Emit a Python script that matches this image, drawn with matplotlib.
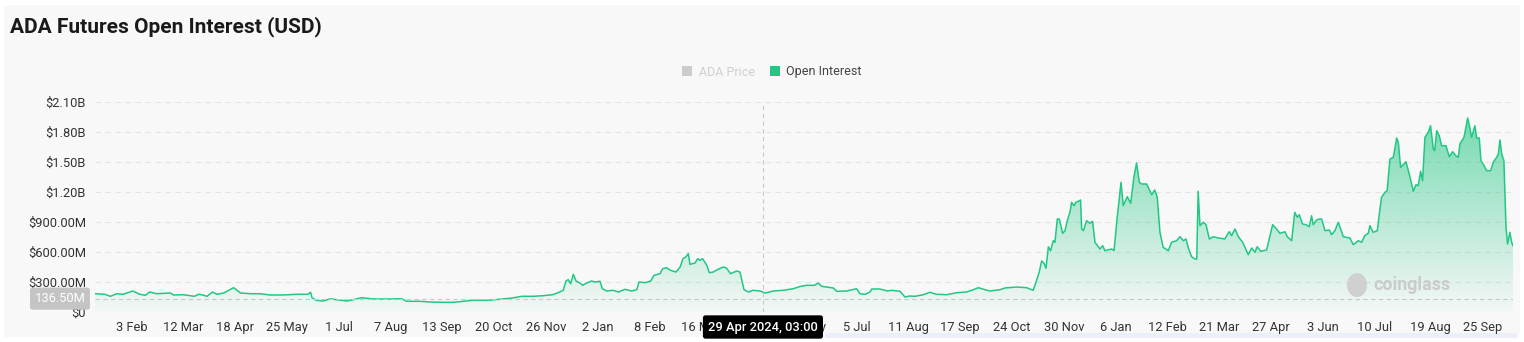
import numpy as np
import pandas as pd
import matplotlib
matplotlib.use('Agg')
import matplotlib.pyplot as plt
import matplotlib.dates as mdates
from matplotlib.colors import ListedColormap
from matplotlib.patches import Patch, Rectangle, Ellipse
from matplotlib.transforms import blended_transform_factory

plt.rcParams['font.family'] = ['Roboto', 'DejaVu Sans']

# data: days after start_date, open interest in millions USD
start_date = '2023-01-08'
day = [0, 7, 11, 15.5, 20, 27, 32, 36, 39, 44, 54, 56, 63, 71, 74, 77, 80, 84, 87, 92,
       99, 104, 111, 118, 125, 134, 144, 152, 154, 155, 158, 163,
       168, 172.6, 180, 184.5, 190.5, 199, 211, 219, 222.6, 232, 239, 249, 256, 263, 270,
       280, 289, 298, 305, 313, 320, 327,
       332, 334.5, 336.4, 338, 339.8, 341.7, 343.6, 346.4, 348.3, 351.2, 354.8, 357, 360.7,
       362.4, 365.5, 370, 374, 378.6, 383.3, 387, 388.6, 392.9, 397, 399.3, 403.6, 405.5,
       408.3, 411, 415, 418, 420, 422, 423.8, 425, 428.6, 430.5, 432, 434, 437, 438.8,
       441.7, 445, 448.8, 451, 454, 458.3, 460.7, 463.6, 466.7, 470, 475, 479, 484.5,
       491.7, 498.8, 503.6,
       508.4, 514, 516.6, 519, 527.4, 529.8, 537, 544, 546.4, 550, 553.6, 554.8, 560.7,
       566, 569, 575, 578.6, 582, 585.7, 591.7, 596.4, 601, 608.4, 615.5, 622.6, 627.4,
       631, 635.7, 639.3, 646.4, 650, 658.4, 665.5, 670.2,
       672.6, 674.5, 676.2, 677.9, 679.3, 681, 682.6, 684.5, 685.7, 687.4, 688.8, 691.2,
       692.9, 694.5, 696.4, 697.6, 699.3, 700.7, 702.4, 704, 704.8, 706, 708.3, 710.7,
       712.6, 714.3, 717.9, 719.8, 721.4, 726.2, 727.9, 730.2, 732.9, 734.5, 737.4, 739.8,
       742.1, 744, 746, 747.6, 751.2, 754.8, 757, 758.8, 760.7, 763, 766.7, 769, 772.6,
       775, 777.4, 779.3, 781, 783.3, 785.7, 787, 788, 789.3, 791.7, 793.6, 796, 798.8,
       802.4, 807, 810.2, 811.9, 814.3, 816.7, 819.8, 823.8, 826.2, 828.6, 830.2, 832.6,
       836.9, 841.2, 844, 846.4, 850,
       851.7, 854.8, 857, 858.8, 860.2, 862.6, 865, 867.4, 869, 870.2, 872.6, 874.5, 876.2,
       878.6, 881.7, 883.3, 885.7, 888.1, 891.7, 896.4, 898.8, 902.4, 904.8, 907, 909.5,
       910.7, 913, 916, 917.4, 919, 921.4, 923, 925, 927.4, 929.8, 931, 932.6, 935, 936.4,
       938.8, 941.7, 943.6, 945.2, 946.9, 948.3, 950, 952.4, 954, 956, 957, 958.4, 960.2,
       961.9, 965, 967.4, 969.8, 972, 973.8, 975, 977.9, 980.5, 982, 983.3, 985.7, 986.9,
       988.8, 990, 992, 994, 996.9, 998.8, 1001.2, 1002.4, 1003.6, 1004.8, 1006.4, 1007.9,
       1009, 1010.7, 1011.9, 1012.9]
oi_musd = [186, 180, 160, 186, 180, 213, 180, 170, 203, 186, 193, 173, 176, 160, 180, 173, 160, 203, 180, 193,
           246, 193, 186, 186, 173, 173, 180, 180, 200, 146, 120, 113,
           135, 126, 113, 126, 146, 133, 133, 136, 110, 110, 103, 100, 100, 110, 120,
           120, 130, 143, 160, 160, 166, 176,
           203, 220, 313, 326, 286, 380, 313, 293, 270, 293, 313, 303, 310,
           236, 213, 220, 203, 230, 213, 226, 303, 296, 313, 370, 386, 436,
           446, 420, 403, 453, 536, 553, 586, 480, 493, 536, 520, 536, 470, 396,
           403, 430, 453, 443, 386, 413, 403, 226, 203, 220, 213, 193, 213,
           220, 236, 258,
           270, 270, 293, 260, 243, 210, 213, 236, 186, 180, 203, 233, 233,
           213, 220, 210, 153, 163, 160, 176, 200, 180, 176, 196, 203, 226,
           246, 226, 213, 226, 243, 253, 246, 220,
           320, 403, 513, 490, 440, 655, 616, 716, 700, 933, 933, 790,
           816, 916, 1000, 1100, 1066, 1100, 1110, 1123, 833, 816, 916, 890,
           910, 700, 633, 666, 616, 633, 616, 950, 1300, 1066, 1156, 1090,
           1350, 1493, 1300, 1283, 1283, 1176, 1223, 1150, 800, 650, 616, 700, 716,
           756, 716, 733, 643, 556, 533, 533, 1210, 866, 900, 876, 733, 756,
           743, 733, 806, 766, 833, 756, 700, 576, 643, 600, 656, 610,
           623, 876, 833, 790, 805,
           756, 716, 1000, 950, 976, 883, 876, 856, 966, 876, 923, 933, 933,
           816, 823, 776, 816, 900, 756, 743, 676, 716, 700, 766, 790,
           866, 800, 816, 983, 1150, 1200, 1216, 1533, 1550, 1743, 1700, 1450, 1483, 1506,
           1383, 1210, 1276, 1266, 1410, 1316, 1750, 1800, 1866, 1633, 1616, 1816, 1766,
           1666, 1666, 1556, 1606, 1566, 1550, 1683, 1750, 1943, 1850, 1750, 1866, 1743,
           1743, 1516, 1473, 1416, 1416, 1500, 1550, 1583, 1723, 1583, 1516, 850,
           683, 800, 700, 666]

tick_dates = ['2023-02-03', '2023-03-12', '2023-04-18', '2023-05-25', '2023-07-01', '2023-08-07',
              '2023-09-13', '2023-10-20', '2023-11-26', '2024-01-02', '2024-02-08', '2024-03-16',
              '2024-05-29', '2024-07-05', '2024-08-11', '2024-09-17', '2024-10-24',
              '2024-11-30', '2025-01-06', '2025-02-12', '2025-03-21', '2025-04-27', '2025-06-03',
              '2025-07-10', '2025-08-19', '2025-09-25']
tick_labels = ['3 Feb', '12 Mar', '18 Apr', '25 May', '1 Jul', '7 Aug', '13 Sep', '20 Oct', '26 Nov',
               '2 Jan', '8 Feb', '16 Mar', '29 May', '5 Jul', '11 Aug', '17 Sep', '24 Oct',
               '30 Nov', '6 Jan', '12 Feb', '21 Mar', '27 Apr', '3 Jun', '10 Jul', '19 Aug', '25 Sep']
y_ticks = [0, 300, 600, 900, 1200, 1500, 1800, 2100]
y_labels = ['$0', '$300.00M', '$600.00M', '$900.00M', '$1.20B', '$1.50B', '$1.80B', '$2.10B']

hover_date = '2024-04-29 03:00'
hover_label = '29 Apr 2024, 03:00'
hover_value = 136.5

green = '#22c784'
W, H = 1524, 342

fig = plt.figure(figsize=(W / 100, H / 100), dpi=100, facecolor='white')
fig.patches.append(Rectangle((4 / W, 5 / H), 1516 / W, 332 / H, transform=fig.transFigure,
                             facecolor='#f8f8f8', edgecolor='none', zorder=-10))
fig.patches.append(Rectangle((825 / W, 1 - 338 / H), 692 / W, 5 / H, transform=fig.transFigure,
                             facecolor='#eceef9', edgecolor='none', zorder=-9))

ax = fig.add_axes([95 / W, (H - 312.3) / H, (1513 - 95) / W, 210 / H])
ax.set_facecolor('none')

dates = pd.to_datetime(start_date) + pd.to_timedelta(day, unit='D')
x = mdates.date2num(dates)
y = np.array(oi_musd, dtype=float)

# gradient fill under the line
poly = ax.fill_between(x, y, 0, color='none', lw=0)
rgba = np.zeros((256, 4))
rgba[:, :3] = matplotlib.colors.to_rgb(green)
rgba[:, 3] = np.linspace(0.02, 0.62, 256)
im = ax.imshow(np.linspace(0, 1, 256).reshape(-1, 1), extent=[x[0], x[-1], 0, 2000],
               origin='lower', aspect='auto', cmap=ListedColormap(rgba), zorder=1)
im.set_clip_path(poly.get_paths()[0], transform=ax.transData)

ax.plot(x, y, color=green, lw=1.1, zorder=3)

ax.set_xlim(x[0], x[-1])
ax.set_ylim(0, 2100)

for v in y_ticks:
    ax.axhline(v, color='#e4e4e4', lw=0.8, ls=(0, (5, 4)), zorder=0)

ax.set_yticks(y_ticks)
ax.set_yticklabels(y_labels)
ax.set_xticks(mdates.date2num(pd.to_datetime(tick_dates)))
ax.set_xticklabels(tick_labels)
ax.tick_params(axis='y', length=0, pad=6.5, labelsize=9.3, labelcolor='#333333')
ax.tick_params(axis='x', length=0, pad=6, labelsize=9.3, labelcolor='#333333')
for s in ax.spines.values():
    s.set_visible(False)

# hover crosshair
hx = mdates.date2num(pd.to_datetime(hover_date))
ax.axvline(hx, color='#c8c8c8', lw=0.8, ls=(0, (4, 3)), zorder=4)
ax.axhline(hover_value, color='#c8c8c8', lw=0.8, ls=(0, (4, 3)), zorder=4)
ax.text(hx, 1 - 327 / H, hover_label, transform=blended_transform_factory(ax.transData, fig.transFigure),
        ha='center', va='center', fontsize=9.3, color='white', fontweight='medium', zorder=10,
        bbox=dict(boxstyle='round,pad=0.4,rounding_size=0.2', facecolor='black', edgecolor='none'),
        clip_on=False)
ax.text(60 / W, hover_value, '136.50M', transform=blended_transform_factory(fig.transFigure, ax.transData),
        ha='center', va='center', fontsize=9.3, color='white', zorder=10,
        bbox=dict(boxstyle='round,pad=0.35,rounding_size=0.2', facecolor='#c4c4c4', edgecolor='none'),
        clip_on=False)

# watermark
fig.patches.append(Ellipse((1357 / W, 1 - 285 / H), 20 / W, 24 / H, transform=fig.transFigure,
                           facecolor='#d0d0d0', edgecolor='none', zorder=2))
fig.text(1373 / W, 1 - 285 / H, 'coinglass', ha='left', va='center', fontsize=12.8,
         fontweight='bold', color='#cbcbcb')

fig.text(10 / W, 1 - 27 / H, 'ADA Futures Open Interest (USD)', ha='left', va='center',
         fontsize=15, fontweight='bold', color='#1a1a1a')

handles = [Patch(facecolor='#cccccc', label='ADA Price'), Patch(facecolor=green, label='Open Interest')]
leg = fig.legend(handles=handles, loc='center', bbox_to_anchor=(772 / W, 1 - 72 / H), ncol=2,
                 frameon=False, fontsize=9, handlelength=0.8, handleheight=0.8,
                 handletextpad=0.5, columnspacing=1.2)
leg.get_texts()[0].set_color('#d0d0d0')
leg.get_texts()[1].set_color('#444444')

fig.savefig('out.png', dpi=100, facecolor=fig.get_facecolor())
